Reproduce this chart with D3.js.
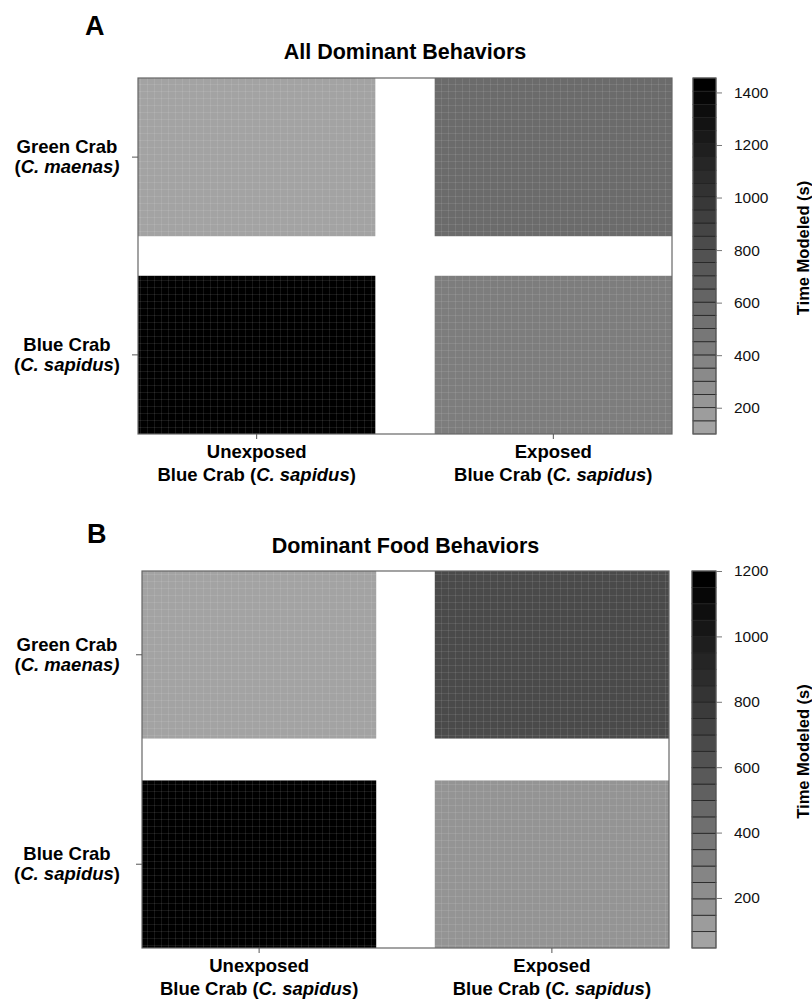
<!DOCTYPE html>
<html>
<head>
<meta charset="utf-8">
<script src="https://cdn.jsdelivr.net/npm/d3@7.9.0/dist/d3.min.js"></script>
<style>
  body { margin: 0; background: #fff; }
  svg { font-family: "Liberation Sans", Arial, sans-serif; }
</style>
</head>
<body>
<svg id="chart" width="812" height="999"></svg>
<script>
// categories (asterisks mark italic parts)
const rowLabels = [["Green Crab", "(*C. maenas)*"], ["Blue Crab", "(*C. sapidus*)"]];
const colLabels = [["Unexposed", "Blue Crab (*C. sapidus*)"], ["Exposed", "Blue Crab (*C. sapidus*)"]];

// time modeled (s), rows = green, blue ; cols = unexposed, exposed
const allValues = [[100, 575], [1455, 415]];
const foodValues = [[47, 660], [1200, 190]];

// colour bar tick labels
const allTicks = [200, 400, 600, 800, 1000, 1200, 1400];
const foodTicks = [200, 400, 600, 800, 1000, 1200];

const svg = d3.select("#chart");

// faint grid texture seen in the cells
const defs = svg.append("defs");
const pat = defs.append("pattern")
    .attr("id", "grain")
    .attr("width", 7).attr("height", 7)
    .attr("patternUnits", "userSpaceOnUse");
pat.append("path")
    .attr("d", "M0,0.5H7M0.5,0V7")
    .attr("stroke", "#fff")
    .attr("stroke-opacity", 0.09)
    .attr("stroke-width", 1);

function richText(sel, str) {
    str.split("*").forEach((part, i) => {
        if (!part) return;
        sel.append("tspan")
            .attr("font-style", i % 2 ? "italic" : "normal")
            .text(part);
    });
}

function drawPanel(cfg) {
    const g = svg.append("g");

    const x = d3.scaleBand().domain([0, 1]).range([cfg.left, cfg.right]).paddingInner(0.2);
    const y = d3.scaleBand().domain([0, 1]).range([cfg.top, cfg.bottom]).paddingInner(0.2);

    const [lo, hi] = cfg.domain;
    const grays = d3.range(cfg.bands).map(i => {
        const v = Math.round(163 * (1 - i / (cfg.bands - 1)));
        return d3.rgb(v, v, v).formatHex();
    });
    const color = d3.scaleQuantize().domain([lo, hi]).range(grays);

    // panel letter + title
    g.append("text")
        .attr("x", cfg.letterX).attr("y", cfg.letterY)
        .attr("font-size", 27).attr("font-weight", "bold")
        .text(cfg.letter);
    g.append("text")
        .attr("x", (cfg.left + cfg.right) / 2).attr("y", cfg.titleY)
        .attr("text-anchor", "middle")
        .attr("font-size", 21.5).attr("font-weight", "bold")
        .text(cfg.title);

    // cells
    const cells = [];
    cfg.values.forEach((row, r) => row.forEach((v, c) => cells.push({ r, c, v })));

    g.selectAll("rect.cell")
        .data(cells)
        .enter().append("rect")
        .attr("class", "cell")
        .attr("x", d => x(d.c)).attr("y", d => y(d.r))
        .attr("width", x.bandwidth()).attr("height", y.bandwidth())
        .attr("fill", d => color(d.v));
    g.selectAll("rect.grain")
        .data(cells)
        .enter().append("rect")
        .attr("class", "grain")
        .attr("x", d => x(d.c)).attr("y", d => y(d.r))
        .attr("width", x.bandwidth()).attr("height", y.bandwidth())
        .attr("fill", "url(#grain)");

    // box
    g.append("rect")
        .attr("x", cfg.left).attr("y", cfg.top)
        .attr("width", cfg.right - cfg.left).attr("height", cfg.bottom - cfg.top)
        .attr("fill", "none").attr("stroke", "#666").attr("stroke-width", 1.2);

    // y ticks + labels
    rowLabels.forEach((lab, r) => {
        const cy = y(r) + y.bandwidth() / 2;
        g.append("line")
            .attr("x1", cfg.left - 6).attr("x2", cfg.left)
            .attr("y1", cy).attr("y2", cy)
            .attr("stroke", "#555");
        lab.forEach((line, k) => {
            const t = g.append("text")
                .attr("x", 67).attr("y", cy + (k === 0 ? -4 : 16))
                .attr("text-anchor", "middle")
                .attr("font-size", 18.5).attr("font-weight", "bold");
            richText(t, line);
        });
    });

    // x ticks + labels
    colLabels.forEach((lab, c) => {
        const cx = x(c) + x.bandwidth() / 2;
        g.append("line")
            .attr("x1", cx).attr("x2", cx)
            .attr("y1", cfg.bottom).attr("y2", cfg.bottom + 5)
            .attr("stroke", "#555");
        lab.forEach((line, k) => {
            const t = g.append("text")
                .attr("x", cx).attr("y", cfg.bottom + 24 + k * 23)
                .attr("text-anchor", "middle")
                .attr("font-size", 18.5).attr("font-weight", "bold");
            richText(t, line);
        });
    });

    // colour bar
    const yb = d3.scaleLinear().domain([lo, hi]).range([cfg.bottom, cfg.top]);
    const step = (hi - lo) / cfg.bands;
    const bandData = d3.range(cfg.bands).map(i => ({ a: lo + i * step, b: lo + (i + 1) * step, col: grays[i] }));

    g.selectAll("rect.band")
        .data(bandData)
        .enter().append("rect")
        .attr("class", "band")
        .attr("x", cfg.barX).attr("width", cfg.barW)
        .attr("y", d => yb(d.b)).attr("height", d => yb(d.a) - yb(d.b))
        .attr("fill", d => d.col)
        .attr("stroke", "#222").attr("stroke-width", 0.8);
    g.append("rect")
        .attr("x", cfg.barX).attr("y", cfg.top)
        .attr("width", cfg.barW).attr("height", cfg.bottom - cfg.top)
        .attr("fill", "none").attr("stroke", "#666").attr("stroke-width", 1);

    const axis = d3.axisRight(yb).tickValues(cfg.ticks).tickFormat(d3.format("d"))
        .tickSize(6).tickPadding(12);
    const ax = g.append("g")
        .attr("transform", `translate(${cfg.barX + cfg.barW},0)`)
        .call(axis);
    ax.select(".domain").remove();
    ax.selectAll(".tick line").attr("stroke", "#777");
    ax.selectAll(".tick text")
        .attr("font-size", 15.5).attr("fill", "#111")
        .attr("font-family", "'Liberation Sans', Arial, sans-serif");

    g.append("text")
        .attr("transform", `translate(${cfg.labelX},${(cfg.top + cfg.bottom) / 2 - 8}) rotate(-90)`)
        .attr("text-anchor", "middle")
        .attr("font-size", 16.5).attr("font-weight", "bold")
        .text("Time Modeled (s)");
}

drawPanel({
    letter: "A", letterX: 85, letterY: 35,
    title: "All Dominant Behaviors", titleY: 59,
    left: 138, right: 672, top: 78, bottom: 434,
    barX: 693, barW: 23, labelX: 809,
    domain: [100, 1455], bands: 27,
    values: allValues, ticks: allTicks
});

drawPanel({
    letter: "B", letterX: 87, letterY: 543,
    title: "Dominant Food Behaviors", titleY: 553,
    left: 142, right: 669, top: 571, bottom: 948,
    barX: 692, barW: 24, labelX: 809,
    domain: [47, 1200], bands: 23,
    values: foodValues, ticks: foodTicks
});
</script>
</body>
</html>
